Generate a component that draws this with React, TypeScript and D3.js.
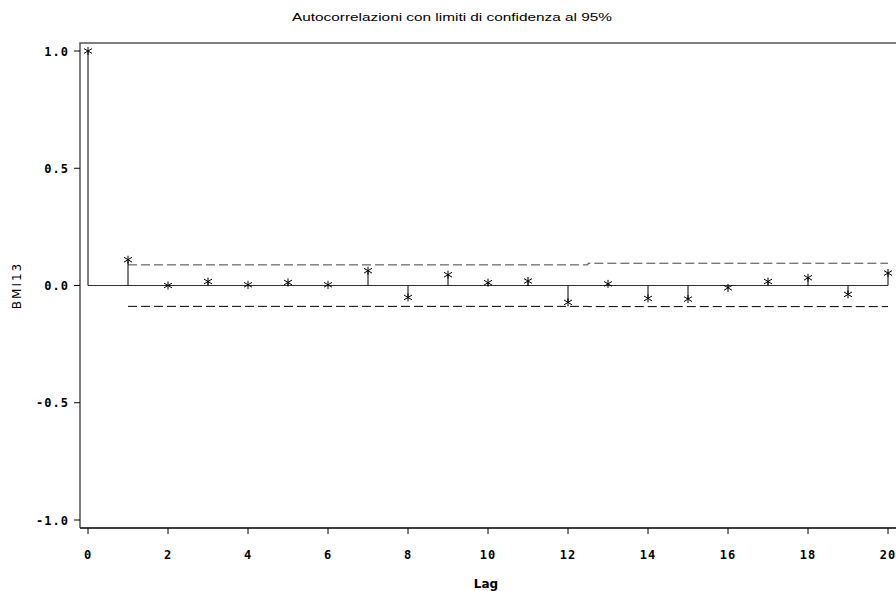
import React from "react";
import * as d3 from "d3";

// autocorrelations
const lags = [0, 1, 2, 3, 4, 5, 6, 7, 8, 9, 10, 11, 12, 13, 14, 15, 16, 17, 18, 19, 20];
const acf = [1.0, 0.11, 0.0, 0.017, 0.003, 0.013, 0.003, 0.063, -0.051, 0.046, 0.012, 0.019, -0.072, 0.007, -0.055, -0.058, -0.01, 0.017, 0.033, -0.038, 0.053];
// 95% confidence limits, lags 1..20
const upper = [0.088, 0.088, 0.088, 0.088, 0.088, 0.088, 0.088, 0.088, 0.088, 0.088, 0.088, 0.088, 0.095, 0.095, 0.095, 0.095, 0.095, 0.095, 0.095, 0.095];
const lower = [-0.089, -0.089, -0.089, -0.089, -0.089, -0.089, -0.089, -0.089, -0.089, -0.089, -0.089, -0.089, -0.09, -0.09, -0.09, -0.09, -0.09, -0.09, -0.09, -0.09];
const yTicks = [-1.0, -0.5, 0.0, 0.5, 1.0];
const xTicks = [0, 2, 4, 6, 8, 10, 12, 14, 16, 18, 20];

const W = 896;
const H = 591;
const frame = { left: 80, top: 43, bottom: 528 };

export default function App() {
  const x = d3.scaleLinear().domain([0, 20]).range([88, 888]);
  const y = d3.scaleLinear().domain([-1, 1]).range([520, 51]);

  const limLine = d3
    .line<number>()
    .x((_, i) => x(lags[i + 1]))
    .y((d) => y(d))
    .curve(d3.curveStep);

  const tickFont = "'DejaVu Sans Mono', monospace";

  return (
    <svg width={W} height={H} style={{ position: "absolute", left: 0, top: 0, background: "#fff" }}>
      <text
        x={452}
        y={21}
        textAnchor="middle"
        fontFamily="'Liberation Sans', Arial, sans-serif"
        fontSize={11.5}
        textLength={320}
        lengthAdjust="spacingAndGlyphs"
      >
        Autocorrelazioni con limiti di confidenza al 95%
      </text>

      {/* frame */}
      <path
        d={`M${frame.left},${frame.bottom}V${frame.top}H${W + 2}`}
        fill="none"
        stroke="#555"
        strokeWidth={1.5}
      />
      <line x1={frame.left} x2={W} y1={frame.bottom} y2={frame.bottom} stroke="#000" strokeWidth={1.5} />

      {/* y axis */}
      {yTicks.map((t) => (
        <g key={t}>
          <line x1={74} x2={frame.left} y1={y(t)} y2={y(t)} stroke="#000" />
          <text
            x={69}
            y={y(t) + 4.5}
            textAnchor="end"
            fontFamily={tickFont}
            fontWeight="bold"
            fontSize={12}
            letterSpacing={1}
          >
            {t.toFixed(1)}
          </text>
        </g>
      ))}

      {/* x axis */}
      {xTicks.map((t) => (
        <g key={t}>
          <line x1={x(t)} x2={x(t)} y1={frame.bottom} y2={frame.bottom + 6} stroke="#000" />
          <text
            x={x(t)}
            y={558.5}
            textAnchor="middle"
            fontFamily={tickFont}
            fontWeight="bold"
            fontSize={12}
            letterSpacing={1}
          >
            {t}
          </text>
        </g>
      ))}

      <text
        x={486}
        y={588}
        textAnchor="middle"
        fontFamily="'DejaVu Sans', sans-serif"
        fontWeight="bold"
        fontSize={12}
      >
        Lag
      </text>
      <text
        transform={`translate(21,${(frame.top + frame.bottom) / 2}) rotate(-90)`}
        textAnchor="middle"
        fontFamily="'DejaVu Sans', sans-serif"
        fontSize={12}
        letterSpacing={2}
      >
        BMI13
      </text>

      {/* zero line */}
      <line x1={x(0)} x2={x(20)} y1={y(0)} y2={y(0)} stroke="#333" />

      {/* confidence limits */}
      <path d={limLine(upper) ?? ""} fill="none" stroke="#444" strokeDasharray="9,4" />
      <path d={limLine(lower) ?? ""} fill="none" stroke="#000" strokeDasharray="9,4" />

      {/* stems and stars */}
      {acf.map((v, i) => {
        const cx = x(lags[i]);
        const cy = y(v);
        const s = 4;
        return (
          <g key={i} stroke="#000" strokeWidth={1}>
            <line x1={cx} x2={cx} y1={y(0)} y2={cy} />
            <line x1={cx} x2={cx} y1={cy - s} y2={cy + s} />
            <line x1={cx - s} x2={cx + s} y1={cy - s * 0.6} y2={cy + s * 0.6} />
            <line x1={cx - s} x2={cx + s} y1={cy + s * 0.6} y2={cy - s * 0.6} />
          </g>
        );
      })}
    </svg>
  );
}
